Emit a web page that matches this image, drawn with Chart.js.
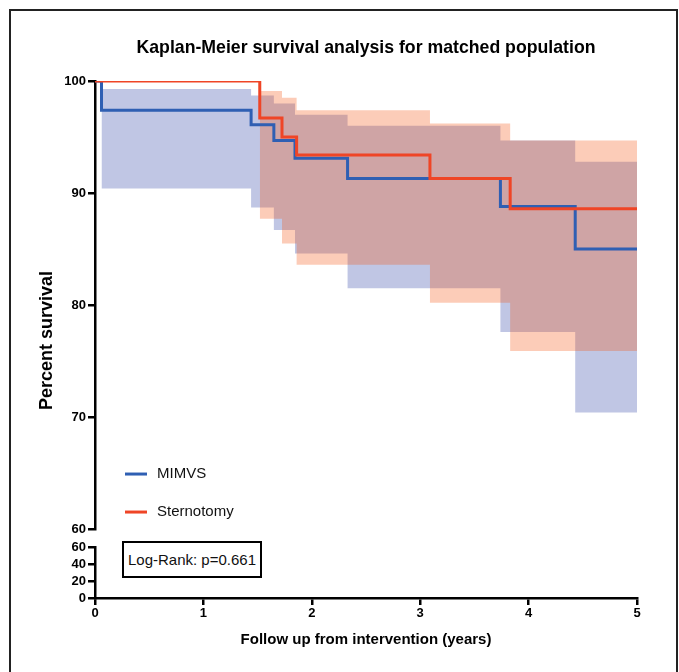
<!DOCTYPE html>
<html>
<head>
<meta charset="utf-8">
<script src="https://cdn.jsdelivr.net/npm/chart.js@4.4.1/dist/chart.umd.min.js"></script>
<style>
  html, body { margin: 0; padding: 0; background: #fff; }
  #wrap { position: relative; width: 679px; height: 672px; overflow: hidden; }
  #kmChart { position: absolute; left: 0; top: 0; }
  #frame { position: absolute; left: 9px; top: 9px; width: 669px; height: 700px; border: 2px solid #222; box-sizing: border-box; pointer-events: none; }
  #logrank { position: absolute; left: 122px; top: 541px; width: 140px; height: 37px; border: 2px solid #000; box-sizing: border-box;
             font: 15px "Liberation Sans", Arial, sans-serif; color: #111; display: flex; align-items: center; justify-content: center; background: #fff; }
</style>
</head>
<body>
<div id="wrap">
  <canvas id="kmChart" width="679" height="672" style="width:679px;height:672px"></canvas>
  <div id="frame"></div>
  <div id="logrank">Log-Rank: p=0.661</div>
</div>
<script>
document.addEventListener("DOMContentLoaded", function() {
    // Kaplan-Meier estimates (years, percent)
    var mimvsTimes = [0, 0.06, 1.44, 1.65, 1.845, 2.33, 3.74, 4.43, 5];
    var mimvsSurvival = [100, 97.4, 96.1, 94.7, 93.1, 91.3, 88.8, 85.0, 85.0];
    var mimvsBandTimes = [0.06, 1.44, 1.65, 1.845, 2.33, 3.74, 4.43, 5];
    var mimvsUpper = [99.3, 98.7, 98.0, 97.0, 96.0, 94.7, 92.8, 92.8];
    var mimvsLower = [90.4, 88.7, 86.7, 84.6, 81.5, 77.6, 70.4, 70.4];

    var sternTimes = [0, 1.52, 1.725, 1.86, 3.09, 3.83, 5];
    var sternSurvival = [100, 96.7, 95.0, 93.4, 91.3, 88.6, 88.6];
    var sternBandTimes = [1.52, 1.725, 1.86, 3.09, 3.83, 5];
    var sternUpper = [99.1, 98.5, 97.4, 96.2, 94.7, 94.7];
    var sternLower = [87.7, 85.5, 83.6, 80.2, 75.9, 75.9];

    var FONT = '"Liberation Sans", Arial, Helvetica, sans-serif';
    var blue = '#2f5fb3';
    var red = '#ef4526';

    function pts(xs, ys) {
        return xs.map(function(x, i) { return {x: x, y: ys[i]}; });
    }

    function band(label, xs, ys, fill, color, order) {
        return {
            label: label, data: pts(xs, ys), stepped: 'before', yAxisID: 'y',
            borderWidth: 0, borderColor: 'rgba(0,0,0,0)', pointRadius: 0,
            backgroundColor: color, fill: fill, order: order
        };
    }

    // y axis title spanning both parts of the broken axis
    var yTitlePlugin = {
        id: 'yTitle',
        afterDraw: function(chart) {
            var ctx = chart.ctx;
            var top = Math.min(chart.scales.y.top, chart.scales.yLow.top);
            var bottom = Math.max(chart.scales.y.bottom, chart.scales.yLow.bottom);
            ctx.save();
            ctx.translate(47, (top + bottom) / 2 + 1);
            ctx.rotate(-Math.PI / 2);
            ctx.font = 'bold 18px ' + FONT;
            ctx.fillStyle = '#000';
            ctx.textAlign = 'center';
            ctx.textBaseline = 'middle';
            ctx.fillText('Percent survival', 0, 0);
            ctx.restore();
        }
    };

    // legend drawn inside the plot area
    var legendPlugin = {
        id: 'insideLegend',
        afterDraw: function(chart) {
            var ctx = chart.ctx;
            var area = chart.chartArea;
            var items = chart.data.datasets.filter(function(d) { return d.showInLegend; });
            ctx.save();
            items.forEach(function(ds, i) {
                var y = area.top + 393 + i * 38;
                ctx.strokeStyle = ds.borderColor;
                ctx.lineWidth = 3;
                ctx.beginPath();
                ctx.moveTo(area.left + 30, y);
                ctx.lineTo(area.left + 52, y);
                ctx.stroke();
                ctx.font = '15px ' + FONT;
                ctx.fillStyle = '#111';
                ctx.textBaseline = 'middle';
                ctx.fillText(ds.label, area.left + 62, y);
            });
            ctx.restore();
        }
    };

    var axisColor = '#000';
    var tickFont = {family: FONT, size: 13, weight: 'bold'};

    var ctx = document.getElementById('kmChart').getContext('2d');
    var myChart = new Chart(ctx, {
        type: 'line',
        data: {
            datasets: [
                band('MIMVS upper', mimvsBandTimes, mimvsUpper, '+1', 'rgba(38,58,162,0.29)', 6),
                band('MIMVS lower', mimvsBandTimes, mimvsLower, false, 'rgba(38,58,162,0.29)', 6),
                band('Sternotomy upper', sternBandTimes, sternUpper, '+1', 'rgba(245,80,10,0.29)', 5),
                band('Sternotomy lower', sternBandTimes, sternLower, false, 'rgba(245,80,10,0.29)', 5),
                {
                    label: 'MIMVS', data: pts(mimvsTimes, mimvsSurvival), stepped: 'before', yAxisID: 'y',
                    borderColor: blue, borderWidth: 3, pointRadius: 0, fill: false, order: 2, showInLegend: true
                },
                {
                    label: 'Sternotomy', data: pts(sternTimes, sternSurvival), stepped: 'before', yAxisID: 'y',
                    borderColor: red, borderWidth: 3, pointRadius: 0, fill: false, order: 1, showInLegend: true
                }
            ]
        },
        options: {
            responsive: false,
            animation: false,
            layout: { padding: { top: 0, left: 0, right: 42, bottom: 0 } },
            plugins: {
                legend: { display: false },
                tooltip: { enabled: false },
                title: {
                    display: true,
                    text: 'Kaplan-Meier survival analysis for matched population',
                    fullSize: false,
                    color: '#000',
                    font: {family: FONT, size: 17.7, weight: 'bold'},
                    padding: {top: 37, bottom: 22.8}
                }
            },
            scales: {
                x: {
                    type: 'linear', min: 0, max: 5,
                    ticks: {stepSize: 1, color: axisColor, font: tickFont, padding: 1},
                    grid: {drawOnChartArea: false, drawTicks: true, tickLength: 7, color: axisColor, lineWidth: 2.5},
                    border: {color: axisColor, width: 2.5},
                    title: {
                        display: true, text: 'Follow up from intervention (years)', color: '#000',
                        font: {family: FONT, size: 15, weight: 'bold'}, padding: {top: 0, bottom: 23}
                    },
                    afterFit: function(s) { s.height = 74; }
                },
                // the lower segment of the broken axis is stacked below the main one
                yLow: {
                    type: 'linear', position: 'left', stack: 'surv', stackWeight: 51,
                    min: 0, max: 60,
                    ticks: {stepSize: 20, color: axisColor, font: tickFont, padding: 2, autoSkip: false},
                    grid: {drawOnChartArea: false, drawTicks: true, tickLength: 7, color: axisColor, lineWidth: 2.5},
                    border: {color: axisColor, width: 2.5},
                    afterFit: function(s) { s.width = 95; }
                },
                yGap: {
                    type: 'linear', position: 'left', stack: 'surv', stackWeight: 18,
                    display: false,
                    afterFit: function(s) { s.width = 95; }
                },
                y: {
                    type: 'linear', position: 'left', stack: 'surv', stackWeight: 448,
                    min: 60, max: 100,
                    ticks: {stepSize: 10, color: axisColor, font: tickFont, padding: 2, autoSkip: false},
                    grid: {drawOnChartArea: false, drawTicks: true, tickLength: 7, color: axisColor, lineWidth: 2.5},
                    border: {color: axisColor, width: 2.5},
                    afterFit: function(s) { s.width = 95; }
                }
            }
        },
        plugins: [yTitlePlugin, legendPlugin]
    });
});
</script>
</body>
</html>
